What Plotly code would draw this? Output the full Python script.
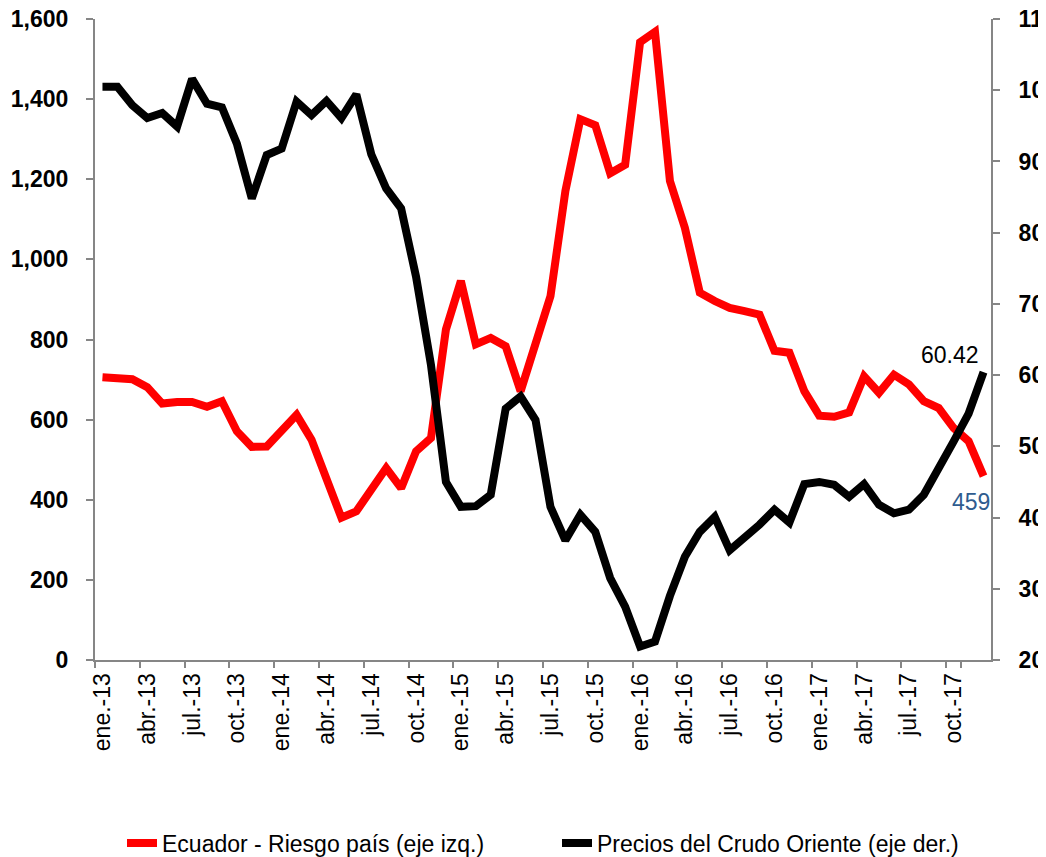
import plotly.graph_objects as go

# ---- data ----
meses = ["ene.", "feb.", "mar.", "abr.", "may.", "jun.", "jul.", "ago.", "sep.", "oct.", "nov.", "dic."]
anios = ["13", "14", "15", "16", "17"]
categorias = [f"{m}-{a}" for a in anios for m in meses]

riesgo_pais = [706, 702, 701, 681, 640, 644, 644, 632, 646, 571,
               532, 533, 575, 612, 550, 455, 355, 371, 425, 479,
               429, 521, 554, 825, 946, 788, 804, 783, 671, 790,
               908, 1171, 1350, 1335, 1215, 1236, 1542, 1568, 1196, 1079,
               917, 896, 879, 871, 862, 772, 767, 671, 610, 607,
               618, 708, 667, 712, 688, 646, 629, 579, 546, 459]

crudo_oriente = [100.5, 100.5, 97.9, 96.1, 96.8, 94.9, 101.6, 98.1, 97.6, 92.5,
                 84.8, 90.9, 91.8, 98.4, 96.5, 98.5, 96.1, 99.4, 91.0, 86.2,
                 83.4, 73.8, 61.4, 45.0, 41.5, 41.6, 43.2, 55.3, 57.0, 53.7,
                 41.5, 36.8, 40.4, 38.0, 31.5, 27.5, 21.9, 22.6, 29.0, 34.5,
                 38.0, 40.1, 35.4, 37.1, 39.0, 41.1, 39.3, 44.7, 45.0, 44.6,
                 42.9, 44.7, 41.8, 40.6, 41.1, 43.2, 46.7, 50.7, 54.6, 60.42]

etiquetas_x = categorias[::3]

nombre_riesgo = "Ecuador - Riesgo país (eje izq.)"
nombre_crudo = "Precios del Crudo Oriente (eje der.)"

FONT = "Arial, Liberation Sans, sans-serif"
GRIS = "#868686"
# the page body has an 8px margin, so the figure is sized to fit the window
W, H = 1038, 849
FS = 23

fig = go.Figure()
fig.add_trace(go.Scatter(x=categorias, y=riesgo_pais, name=nombre_riesgo, mode="lines",
                         line=dict(color="#FF0000", width=8), yaxis="y", legend="legend"))
fig.add_trace(go.Scatter(x=categorias, y=crudo_oriente, name=nombre_crudo, mode="lines",
                         line=dict(color="#000000", width=8), yaxis="y2", legend="legend2"))

leg_common = dict(orientation="h", xref="container", yref="container",
                  y=1 - 835 / H, xanchor="left", yanchor="middle",
                  font=dict(size=FS, color="black", family=FONT),
                  bgcolor="rgba(0,0,0,0)")

fig.update_layout(
    width=W, height=H,
    margin=dict(l=87, r=55, t=11, b=197, autoexpand=False),
    plot_bgcolor="white", paper_bgcolor="white",
    font=dict(family=FONT, color="black"),
    xaxis=dict(type="category", range=[-0.5, 59.5], tickmode="array",
               tickvals=etiquetas_x, ticktext=etiquetas_x, tickangle=-90,
               tickson="boundaries", ticks="outside", ticklen=6, tickwidth=2,
               tickcolor=GRIS, showline=True, linecolor=GRIS, linewidth=2,
               showgrid=False, automargin=False, ticklabelstandoff=2,
               ticklabeloverflow="allow",
               tickfont=dict(size=FS, color="black")),
    yaxis=dict(range=[0, 1600], dtick=200, tickformat=",d", separatethousands=True,
               showline=True, linecolor=GRIS, linewidth=2, ticks="outside",
               ticklen=7, tickwidth=2, tickcolor=GRIS, showgrid=False, zeroline=False,
               automargin=False, ticklabeloverflow="allow",
               tickfont=dict(size=FS, color="black", weight="bold"),
               ticklabelstandoff=13),
    yaxis2=dict(range=[20, 110], dtick=10, overlaying="y", side="right",
                showline=True, linecolor=GRIS, linewidth=2, ticks="outside",
                ticklen=7, tickwidth=2, tickcolor=GRIS, showgrid=False, zeroline=False,
                automargin=False, ticklabeloverflow="allow",
                tickfont=dict(size=FS, color="black", weight="bold"),
                ticklabelstandoff=14),
    legend=dict(x=114 / W, **leg_common),
    legend2=dict(x=549 / W, **leg_common),
    showlegend=True,
    annotations=[
        dict(x=categorias[-1], y=crudo_oriente[-1], xref="x", yref="y2",
             text=f"{crudo_oriente[-1]:.2f}", showarrow=False,
             xanchor="right", yanchor="middle", xshift=-3, yshift=17,
             font=dict(size=FS, color="black", family=FONT)),
        dict(x=categorias[-1], y=riesgo_pais[-1], xref="x", yref="y",
             text=f"{riesgo_pais[-1]:.0f}", showarrow=False,
             xanchor="right", yanchor="middle", xshift=8, yshift=-26,
             font=dict(size=FS, color="#2F5C8F", family=FONT)),
    ],
)

fig.write_html("out.html")
